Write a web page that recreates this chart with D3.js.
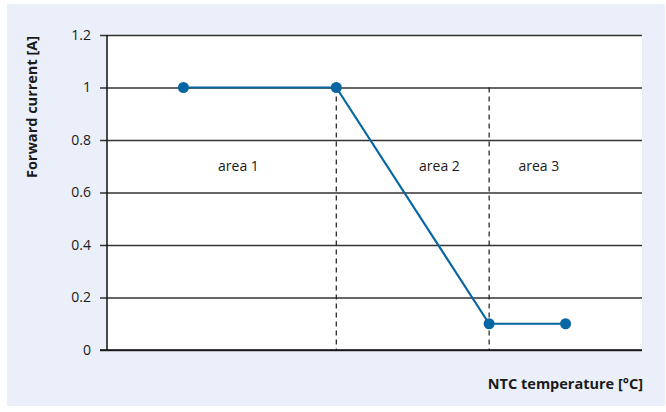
<!DOCTYPE html>
<html>
<head>
<meta charset="utf-8">
<script src="https://cdn.jsdelivr.net/npm/d3@7"></script>
<style>
  body { margin: 0; background: #fff; }
  svg text { font-family: "Open Sans", "Noto Sans", sans-serif; fill: #1a1a1a; }
</style>
</head>
<body>
<div id="chart"></div>
<script>
// 데이터
const tempPoints = [1, 3, 5, 6];          // x 위치 (눈금 없음)
const currentValues = [1, 1, 0.1, 0.1];   // Forward current [A]
const yTicks = [0, 0.2, 0.4, 0.6, 0.8, 1, 1.2];
const dividers = [3, 5];                  // 점선 경계
const areaNames = ["area 1", "area 2", "area 3"];
const areaX = [1.72, 4.35, 5.65];
const areaY = 0.7;

const W = 666, H = 412;
const margin = {top: 35, right: 24, bottom: 62, left: 107};

const svg = d3.select("#chart").append("svg")
    .attr("width", W)
    .attr("height", H);

// 배경 패널
svg.append("rect")
    .attr("x", 7).attr("y", 4)
    .attr("width", 658).attr("height", 402)
    .attr("fill", "#ebeff9");

const xScale = d3.scaleLinear().domain([0, 7]).range([margin.left, W - margin.right]);
const yScale = d3.scaleLinear().domain([0, 1.2]).range([H - margin.bottom, margin.top]);

// 플롯 영역
svg.append("rect")
    .attr("x", xScale(0)).attr("y", yScale(1.2))
    .attr("width", xScale(7) - xScale(0))
    .attr("height", yScale(0) - yScale(1.2))
    .attr("fill", "#fff");

// 가로 그리드 + 눈금
const yAxis = svg.append("g")
    .attr("transform", `translate(${margin.left},0)`)
    .call(d3.axisLeft(yScale)
        .tickValues(yTicks)
        .tickFormat(d => d)
        .tickSizeInner(-(xScale(7) - xScale(0)))
        .tickSizeOuter(0)
        .tickPadding(16));
yAxis.select(".domain").remove();
yAxis.selectAll(".tick line")
    .attr("x1", -7)
    .attr("stroke", "#333")
    .attr("stroke-width", 1.3);
yAxis.selectAll(".tick text")
    .attr("font-size", 14)
    .attr("fill", "#1a1a1a")
    .style("font-family", "'Open Sans', sans-serif");

// 점선 경계
svg.selectAll(".divider")
    .data(dividers)
    .join("line")
    .attr("class", "divider")
    .attr("x1", d => xScale(d)).attr("x2", d => xScale(d))
    .attr("y1", yScale(1)).attr("y2", yScale(0))
    .attr("stroke", "#1a1a1a")
    .attr("stroke-width", 1.2)
    .attr("stroke-dasharray", "5,4");

// 축선
svg.append("line")
    .attr("x1", xScale(0)).attr("x2", xScale(0))
    .attr("y1", yScale(1.2)).attr("y2", yScale(0))
    .attr("stroke", "#111").attr("stroke-width", 1.5);
svg.append("line")
    .attr("x1", xScale(0) - 7).attr("x2", xScale(7))
    .attr("y1", yScale(0)).attr("y2", yScale(0))
    .attr("stroke", "#111").attr("stroke-width", 1.5);

// 영역 라벨
svg.selectAll(".area-label")
    .data(areaNames)
    .join("text")
    .attr("class", "area-label")
    .attr("x", (d, i) => xScale(areaX[i]))
    .attr("y", yScale(areaY))
    .attr("dy", "0.35em")
    .attr("text-anchor", "middle")
    .attr("font-size", 14)
    .text(d => d);

// 선
const pts = tempPoints.map((t, i) => [t, currentValues[i]]);
const line = d3.line()
    .x(d => xScale(d[0]))
    .y(d => yScale(d[1]));

svg.append("path")
    .datum(pts)
    .attr("d", line)
    .attr("fill", "none")
    .attr("stroke", "#0866a2")
    .attr("stroke-width", 2.2);

svg.selectAll(".dot")
    .data(pts)
    .join("circle")
    .attr("class", "dot")
    .attr("cx", d => xScale(d[0]))
    .attr("cy", d => yScale(d[1]))
    .attr("r", 5.5)
    .attr("fill", "#0866a2");

// 축 제목
svg.append("text")
    .attr("transform", `translate(37,107) rotate(-90)`)
    .attr("text-anchor", "middle")
    .attr("font-size", 14.5)
    .attr("font-weight", "bold")
    .text("Forward current [A]");

svg.append("text")
    .attr("x", xScale(7) + 1)
    .attr("y", 389)
    .attr("text-anchor", "end")
    .attr("font-size", 14.5)
    .attr("font-weight", "bold")
    .text("NTC temperature [°C]");
</script>
</body>
</html>
